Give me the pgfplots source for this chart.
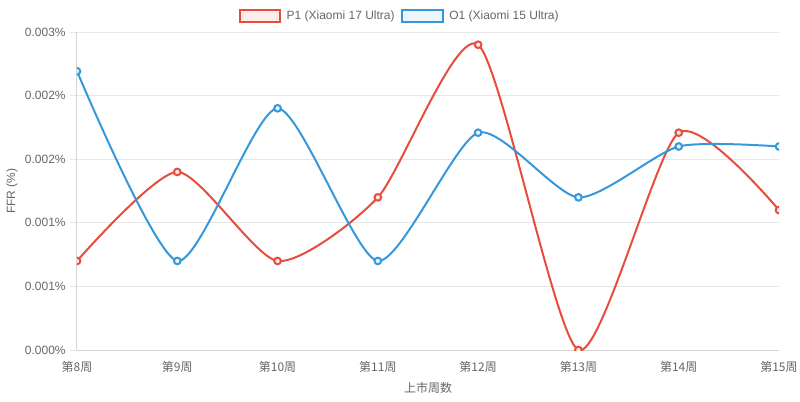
\documentclass[border=0pt]{standalone}
\usepackage{pgfplots}
\pgfplotsset{compat=1.18}
\usepackage{fontspec}
\setmainfont{Liberation Sans}
\newfontfamily\cjk{Noto Sans CJK SC}
\definecolor{pred}{HTML}{E74C3C}
\definecolor{oblue}{HTML}{3498DB}
\definecolor{txt}{HTML}{666666}
\definecolor{gridc}{HTML}{E6E6E6}
\definecolor{axc}{HTML}{D4D4D4}
\begin{document}
\begin{tikzpicture}
\useasboundingbox (-57.75pt,-38.25pt) rectangle (542.25pt,262.5pt);
\begin{axis}[
  scale only axis, width=526.5pt, height=238.5pt,
  at={(0,0)}, anchor=south west,
  xmin=0, xmax=7, ymin=0, ymax=0.003,
  xtick={0,...,7},
  xticklabels={第8周,第9周,第10周,第11周,第12周,第13周,第14周,第15周},
  ytick={0,0.0006,0.0012,0.0018,0.0024,0.003},
  yticklabels={0.000\%,0.001\%,0.001\%,0.002\%,0.002\%,0.003\%},
  scaled y ticks=false,
  ymajorgrids, grid style={gridc, line width=0.75pt},
  axis x line*=bottom, axis y line*=left,
  axis line style={axc, line width=0.75pt},
  tick align=outside, major tick length=5pt,
  ytick style={gridc, line width=0.75pt},
  xtick style={draw=none},
  yticklabel style={font=\fontsize{9}{10}\selectfont, text=txt, xshift=0pt},
  xticklabel style={font=\cjk\fontsize{9}{10}\selectfont, text=txt},
  /pgf/number format/assume math mode=true,
  every axis y label/.style={at={(axis description cs:-0.0926,0.5)}, rotate=90, anchor=center, font=\fontsize{9}{10}\selectfont, text=txt},
  ylabel={FFR (\%)},
  every axis x label/.style={at={(axis description cs:0.5,-0.1195)}, anchor=center, font=\cjk\fontsize{9}{10}\selectfont, text=txt},
  xlabel={上市周数},
  legend style={at={(axis description cs:0.4601,1.0503)}, anchor=center, draw=none, fill=none,
    font=\fontsize{9}{10}\selectfont, text=txt, legend columns=2,
    /tikz/every odd column/.append style={column sep=2pt},
    /tikz/every even column/.append style={column sep=3pt}},
  clip marker paths=true,
]
\addplot[pred, line width=1.5pt, smooth, tension=0.4, mark=*, mark size=2.5pt,
  mark options={fill=pred!10, line width=1.5pt},
  legend image code/.code={\draw[pred, fill=pred!10, line width=1.5pt] (0pt,-4.75pt) rectangle (30.5pt,4.75pt);}]
  coordinates {(0,0.00084) (1,0.00168) (2,0.00084) (3,0.00144) (4,0.00288) (5,0) (6,0.00205) (7,0.00132)};
\addlegendentry{P1 (Xiaomi 17 Ultra)}
\addplot[oblue, line width=1.5pt, smooth, tension=0.4, mark=*, mark size=2.5pt,
  mark options={fill=oblue!10, line width=1.5pt},
  legend image code/.code={\draw[oblue, fill=oblue!10, line width=1.5pt] (0pt,-4.75pt) rectangle (30.5pt,4.75pt);}]
  coordinates {(0,0.00263) (1,0.00084) (2,0.00228) (3,0.00084) (4,0.00205) (5,0.00144) (6,0.00192) (7,0.00192)};
\addlegendentry{O1 (Xiaomi 15 Ultra)}
\end{axis}
\end{tikzpicture}
\end{document}
